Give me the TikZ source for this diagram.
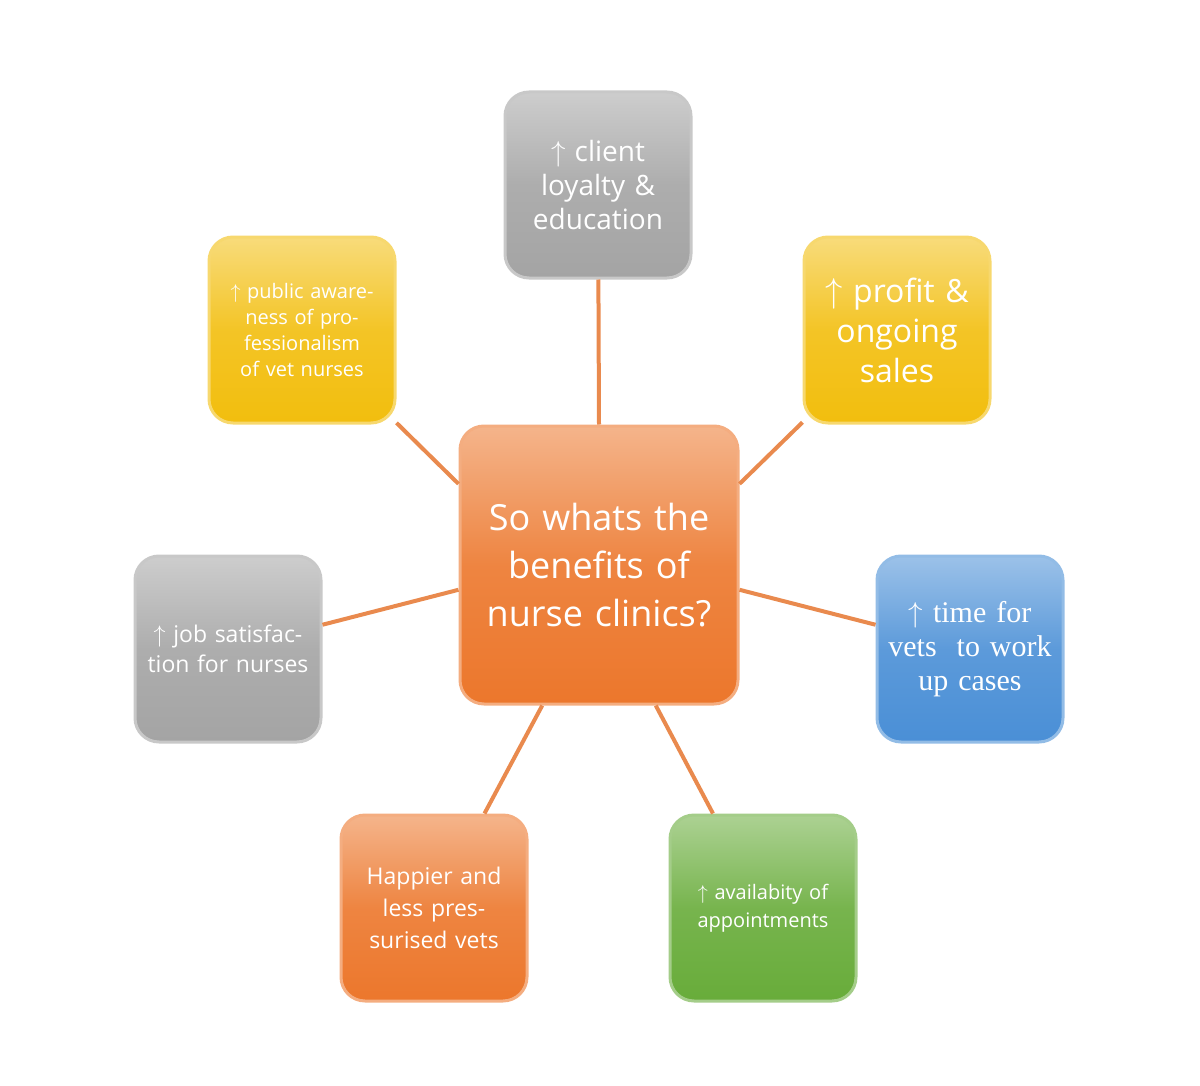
\documentclass[tikz,border=0pt]{standalone}
\usepackage{fontspec}
\setmainfont{Open Sans}
\newfontfamily\tms{Liberation Serif}
\begin{document}
\begin{tikzpicture}[x=0.5pt,y=-0.5pt]
\definecolor{cgrey}{HTML}{A4A4A4}
\definecolor{cyel}{HTML}{F2BE0E}
\definecolor{corg}{HTML}{EC772C}
\definecolor{cblue}{HTML}{4A8FD6}
\definecolor{cgreen}{HTML}{68AC3A}
\definecolor{cline}{HTML}{E98A4E}
\tikzset{
 box/.style={rounded corners=12pt,minimum width=93pt,minimum height=93pt,text width=88pt,align=center,text=white,
   top color=#1!55!white,bottom color=#1,middle color=#1!90!white,draw=#1!60!white,line width=1.5pt,inner sep=2pt},
 conn/.style={draw=cline,line width=2pt}
}
\useasboundingbox (0,0) rectangle (1200,1086);
\node[box=corg,minimum width=139pt,minimum height=139pt,text width=125pt,font=\fontsize{18}{24}\selectfont] (c) at (599,565) {So whats the benefits of nurse clinics?};
\node[box=cgrey,font=\fontsize{14}{17}\selectfont] (t) at (598,185) {$\uparrow$ client loyalty \& education};
\node[box=cyel,font=\fontsize{10}{13}\selectfont] (yl) at (302,330) {$\uparrow$ public awareness of professionalism of vet nurses};
\node[box=cyel,font=\fontsize{16}{20}\selectfont] (yr) at (897,330) {$\uparrow$ profit \& ongoing sales};
\node[box=cgrey,font=\fontsize{11.5}{15}\selectfont] (gl) at (228,649) {$\uparrow$ job satisfaction for nurses};
\node[box=cblue,font=\tms\fontsize{15}{17}\selectfont] (b) at (970,649) {$\uparrow$ time for vets\ \ to work up cases};
\node[box=corg,font=\fontsize{11.5}{16}\selectfont] (o) at (434,908) {Happier and less pressurised vets};
\node[box=cgreen,font=\fontsize{10}{14}\selectfont] (g) at (763,908) {$\uparrow$ availabity of appointments};
\draw[conn] (c.north) -- (t);
\draw[conn] (c.150) -- (yl);
\draw[conn] (c.30) -- (yr);
\draw[conn] (c.190) -- (gl);
\draw[conn] (c.-10) -- (b);
\draw[conn] (c.-112) -- (o);
\draw[conn] (c.-68) -- (g);
\end{tikzpicture}
\end{document}
